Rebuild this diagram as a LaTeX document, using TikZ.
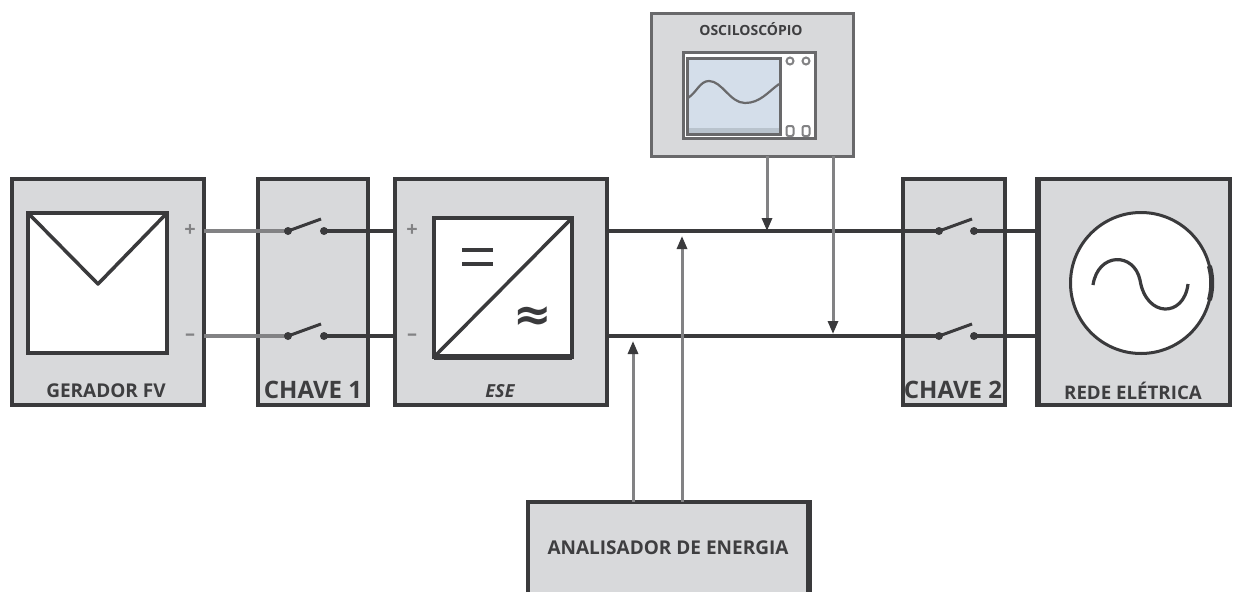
\documentclass[tikz,border=0pt]{standalone}
\usepackage{fontspec}
\setmainfont{Open Sans}
\newfontfamily\symfont{DejaVu Sans}
\usetikzlibrary{arrows.meta}
\definecolor{boxfill}{RGB}{216,217,219}
\definecolor{edge}{RGB}{58,58,60}
\definecolor{thinw}{RGB}{130,130,132}
\definecolor{softedge}{RGB}{105,105,107}
\definecolor{scr}{RGB}{212,222,234}
\definecolor{scrb}{RGB}{185,195,205}
\definecolor{txt}{RGB}{62,62,64}
\tikzset{
 every node/.append style={outer sep=0pt},
 panel/.style={draw=edge,fill=boxfill,line width=3.2pt,minimum width=#1,minimum height=226pt,inner sep=0pt,anchor=north west},
 inner box/.style={draw=edge,fill=white,line width=3.5pt,inner sep=0pt,anchor=north west},
 lab/.style={font=\bfseries\fontsize{19}{19}\selectfont,text=txt,inner sep=0pt},
 biglab/.style={font=\bfseries\fontsize{24}{24}\selectfont,text=txt,inner sep=0pt},
 wire/.style={draw=edge,line width=4.5pt},
 fwire/.style={draw=thinw,line width=4pt},
 tip/.style={fill=edge,draw=none,inner sep=0pt,minimum size=8pt,circle},
 blade/.style={draw=edge,line width=3pt},
 pol/.style={font=\bfseries\fontsize{20}{20}\selectfont,text=thinw,inner sep=0pt},
 arr/.style={-{Triangle[length=13pt,width=10pt,fill=edge,color=edge]},draw=thinw,line width=3pt},
 knob/.style={draw=thinw,line width=2pt,inner sep=0pt},
 heavy/.style={draw=edge,line width=#1,shorten <=-1.6pt,shorten >=-1.6pt}
}
\begin{document}
\begin{tikzpicture}[x=1pt,y=-1pt]
\useasboundingbox (0,0) rectangle (1237,592);
\fill[white] (0,0) rectangle (1237,592);
% panels
\node[panel=192pt] (ger) at (12,179) {};
\node[panel=110pt] (ch1) at (258,179) {};
\draw[heavy=4.5pt] (ch1.north east) -- (ch1.south east);
\node[panel=212pt] (ese) at (395,179) {};
\node[panel=102pt] (ch2) at (903,179) {};
\node[panel=192pt] (red) at (1038,179) {};
\draw[heavy=6.5pt] (red.north west) -- (red.south west);
\draw[heavy=4.5pt] (red.north east) -- (red.south east);
\node[draw=softedge,fill=boxfill,line width=3pt,minimum width=202pt,minimum height=143pt,inner sep=0pt,anchor=north west] (osc) at (651,13) {};
\fill[boxfill] (528,502) rectangle (810,592);
\node[draw=none,minimum width=282pt,minimum height=90pt,inner sep=0pt,anchor=north west] (ana) at (528,502) {};
\draw[edge,line width=3.5pt] (528,592) -- (528,502) -- (810,502);
\draw[edge,line width=5.5pt] (809,500.2) -- (809,592);
% generator icon
\node[inner box,minimum width=139pt,minimum height=140pt] (pv) at (28,213) {};
\draw[edge,line width=3.5pt,line join=round] (pv.north west) -- (98,284) -- (pv.north east);
% converter
\node[inner box,minimum width=138pt,minimum height=139pt] (conv) at (434,218) {};
\draw[edge,line width=6pt] (conv.south west) -- (conv.south east);
\draw[edge,line width=3.5pt] (conv.south west) -- (conv.north east);
\draw[edge,line width=4.5pt] (462,250) -- (493,250);
\draw[edge,line width=3.5pt] (462,264) -- (493,264);
\node[text=edge,inner sep=0pt,font=\symfont\bfseries\fontsize{46}{46}\selectfont] (apx) at (533,319) {≈};
% grid
\node[draw=edge,fill=white,circle,line width=3pt,minimum size=141pt,inner sep=0pt] (src) at (1141,283) {};
\draw[edge,line width=5pt] ([shift={(68.4,-17)}]src.center) .. controls ([shift={(71.5,-6)}]src.center) and ([shift={(71.5,6)}]src.center) .. ([shift={(68.4,17)}]src.center);
\draw[edge,line width=3.2pt] (1093,285) .. controls (1098,252) and (1134,252) .. (1140,280) .. controls (1146,318) and (1184,318) .. (1188,284);
% wires
\coordinate (s1pa) at (288,231); \coordinate (s1pb) at (324,231);
\coordinate (s1ma) at (288,336); \coordinate (s1mb) at (324,336);
\coordinate (s2pa) at (939,231); \coordinate (s2pb) at (974,231);
\coordinate (s2ma) at (939,336); \coordinate (s2mb) at (974,336);
\draw[fwire] (ger.east |- s1pa) -- (s1pa);
\draw[fwire] (ger.east |- s1ma) -- (s1ma);
\draw[wire] (s1pb) -- (ese.west |- s1pb);
\draw[wire,line width=3.5pt] (s1mb) -- (ese.west |- s1mb);
\draw[wire] (ese.east |- s1pa) -- (s2pa);
\draw[wire] (ese.east |- s1ma) -- (s2ma);
\draw[wire] (s2pb) -- (red.west |- s2pb);
\draw[wire] (s2mb) -- (red.west |- s2mb);
\foreach \n in {s1pa,s1pb,s1ma,s1mb,s2pa,s2pb,s2ma,s2mb} \node[tip] (t\n) at (\n) {};
\foreach \a in {s1pa,s1ma,s2pa,s2ma} \draw[blade] (\a) -- ++(33,-12);
% signal lines
\coordinate (j1) at (682,236);
\coordinate (j2) at (633,341);
\coordinate (j3) at (767,231);
\coordinate (j4) at (833,334);
\draw[arr] (ana.north -| j1) -- (j1);
\draw[arr] (ana.north -| j2) -- (j2);
\draw[arr] (osc.south -| j3) -- (j3);
\draw[arr] (osc.south -| j4) -- (j4);
% scope
\node[draw=softedge,fill=white,line width=3pt,minimum width=132pt,minimum height=86pt,inner sep=0pt,anchor=north west] (scope) at (683,52) {};
\node[draw=softedge,fill=scr,line width=3pt,minimum width=93pt,minimum height=76pt,inner sep=0pt,anchor=north west] (screen) at (687,58) {};
\fill[scrb] (688.5,128) rectangle (778.5,132.5);
\draw[softedge,line width=2.2pt] (688,98) .. controls (697,92) and (700,81) .. (709,81) .. controls (722,81) and (730,103) .. (745,103) .. controls (760,103) and (768,92) .. (779,84);
\foreach \x in {790,806} \node[knob,circle,minimum size=7pt] at (\x,61) {};
\foreach \x in {790,806} \node[knob,rounded corners=2pt,minimum width=7pt,minimum height=10pt] at (\x,131) {};
% labels
\node[pol] at (190,231) {+};
\node[pol] at (190,337) {–};
\node[pol] at (412,231) {+};
\node[pol] at (412,337) {–};
\node[lab] at (106,391) {GERADOR FV};
\node[biglab] at (313,390) {CHAVE 1};
\node[lab,font=\itshape\bfseries\fontsize{18}{18}\selectfont] at (500,391) {ESE};
\node[biglab] at (953,390) {CHAVE 2};
\node[lab,font=\bfseries\fontsize{18.7}{19}\selectfont] at (1133,391) {REDE ELÉTRICA};
\node[lab,font=\bfseries\fontsize{14}{14}\selectfont] at (751,29) {OSCILOSCÓPIO};
\node[lab] at (668,548) {ANALISADOR DE ENERGIA};
\end{tikzpicture}
\end{document}
